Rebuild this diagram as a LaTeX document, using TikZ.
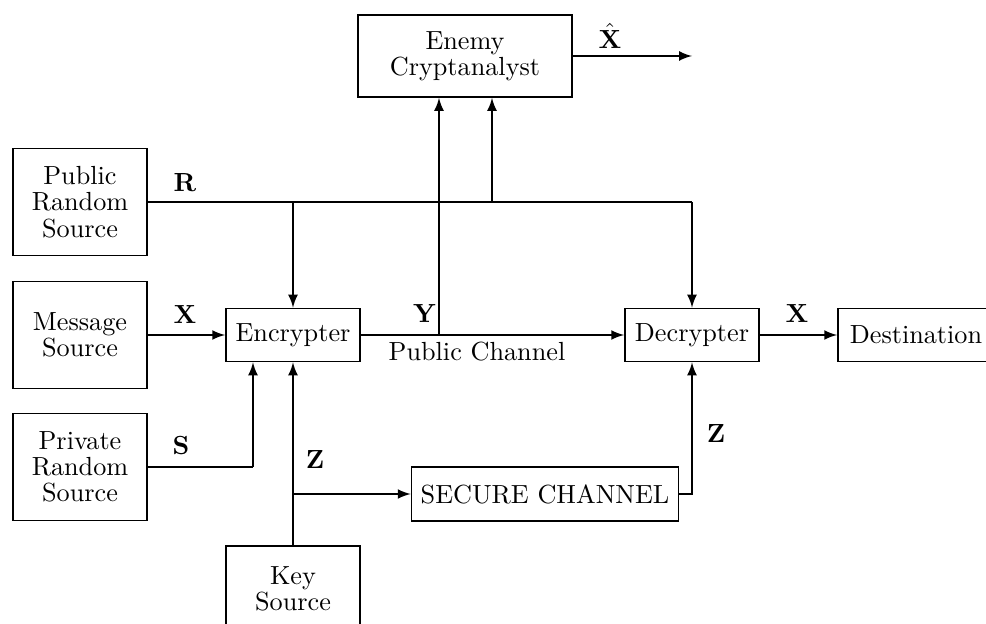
\documentclass[tikz,border=0pt]{standalone}
\usepackage{amsmath}
\usepackage{amssymb}
\usepackage{tikz}
\usetikzlibrary{arrows}

\begin{document}
\begin{tikzpicture}[x=0.01341cm,y=-0.01341cm,>=latex,line width=0.7pt,
	block/.style={draw,align=center,font=\fontsize{10}{10}\selectfont,minimum width=1.797cm,minimum height=0.711cm},
	srcblock/.style={block,minimum height=1.435cm}]
		\useasboundingbox (0,0) rectangle (986,624);
		% boxes
		\node[block,minimum width=2.87cm,minimum height=1.1cm] (enemy) at (465,56) {Enemy\\Cryptanalyst};
		\node[srcblock] (pubsrc) at (80,202) {Public\\Random\\Source};
		\node[srcblock] (msgsrc) at (80,335) {Message\\Source};
		\node[srcblock] (privsrc) at (80,467) {Private\\Random\\Source};
		\node[block] (enc) at (293,335) {Encrypter};
		\node[block] (dec) at (692,335) {Decrypter};
		\node[block,minimum width=2.092cm] (dest) at (916,335) {Destination};
		\node[block,minimum width=3.58cm,minimum height=0.724cm] (sc) at (545,494) {SECURE CHANNEL};
		\node[block,minimum height=1.153cm] (keysrc) at (293,589) {Key\\Source};
		% branch points
		\coordinate (rend) at (692,202);
		\coordinate (rdrop) at (293,202);
		\coordinate (rup) at (492,202);
		\coordinate (ytap) at (439,335);
		\coordinate (stap) at (253,467);
		\coordinate (zsplit) at (293,494);
		\coordinate (xhatend) at (692,56);
		% connectors
		\draw (pubsrc) -- (rend);
		\draw [->] (rend) -- (dec);
		\draw [->] (rdrop) -- (enc);
		\draw [->] (rup) -- (rup |- enemy.south);
		\draw [->] (msgsrc) -- (enc);
		\draw [->] (enc) -- (dec);
		\draw [->] (ytap) -- (ytap |- enemy.south);
		\draw [->] (enemy.east |- xhatend) -- (xhatend);
		\draw [->] (dec) -- (dest);
		\draw (privsrc.east |- stap) -- (stap);
		\draw [->] (stap) -- (stap |- enc.south);
		\draw [->] (keysrc) -- (enc);
		\draw [->] (zsplit) -- (sc);
		\draw [->] (sc.east) -| (dec.south);
		% labels
		\node (rlbl) at (185,183) {$\mathbf{R}$};
		\node (xlbl) at (185,315) {$\mathbf{X}$};
		\node (slbl) at (181,446) {$\mathbf{S}$};
		\node (zlbl) at (315,460) {$\mathbf{Z}$};
		\node (ylbl) at (425,314) {$\mathbf{Y}$};
		\node (pchlbl) at (477,352) {Public Channel};
		\node (xoutlbl) at (797,314) {$\mathbf{X}$};
		\node (zdeclbl) at (716,434) {$\mathbf{Z}$};
		\node (xhatlbl) at (610,36) {$\hat{\mathbf{X}}$};
	\end{tikzpicture}
\end{document}
